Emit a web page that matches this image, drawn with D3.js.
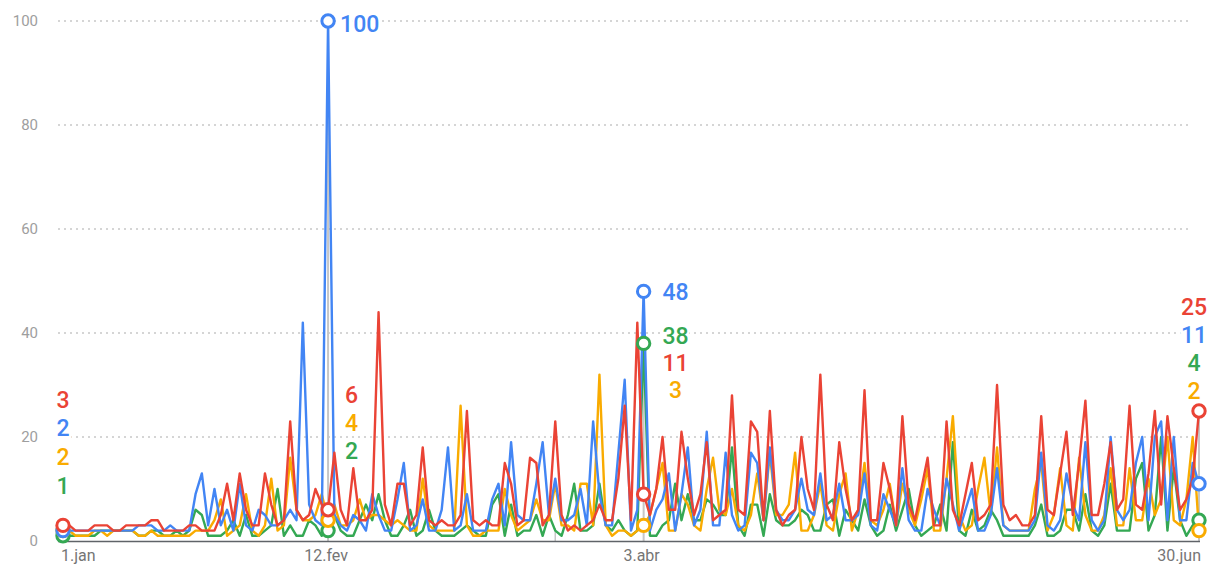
<!DOCTYPE html>
<html>
<head>
<meta charset="utf-8">
<script src="https://cdn.jsdelivr.net/npm/d3@7"></script>
<style>
  html, body { margin: 0; padding: 0; background: #fff; }
  svg { display: block; font-family: Roboto, "Noto Sans", Arial, sans-serif; }
</style>
</head>
<body>
<svg id="chart" width="1211" height="565"></svg>
<script>
// ---- DATA ----
const startDate = "2023-01-01";
const dayCount = 181;
const xTickDates = ["2023-01-01", "2023-02-12", "2023-04-03", "2023-06-30"];
const xTickLabels = ["1.jan", "12.fev", "3.abr", "30.jun"];
const yTicks = [0, 20, 40, 60, 80, 100];

const seriesNames = ["green", "yellow", "blue", "red"];

const redValues = [
  3,3,2,2,2,3,3,3,2,2,3,3,3,3,4,4,2,2,
  2,2,3,3,2,2,2,5,11,4,13,6,3,3,13,7,3,4,
  23,6,4,5,10,7,6,17,6,3,14,4,4,6,44,7,3,11,
  11,3,5,18,4,3,4,3,3,5,25,4,3,4,3,3,15,11,
  3,4,16,15,3,5,23,5,2,3,2,3,4,7,4,4,12,26,4,42,
  9,5,10,20,6,6,21,12,5,9,19,4,5,6,28,6,5,23,
  21,4,25,6,3,5,6,20,10,6,32,7,4,19,10,4,6,29,4,
  4,15,10,3,24,7,4,10,16,3,3,23,6,3,9,15,4,5,7,
  30,7,4,5,3,3,5,24,6,5,13,21,5,15,27,5,5,11,
  19,6,8,26,7,6,13,25,7,24,14,6,8,12,25
];
const blueValues = [
  2,2,2,2,2,2,2,2,2,2,2,2,3,3,3,2,2,3,
  2,2,2,9,13,3,10,3,6,2,11,3,2,6,5,3,3,4,
  6,4,42,7,4,3,100,5,3,2,5,4,2,9,5,2,2,8,
  15,2,3,8,2,2,6,18,2,3,9,2,2,2,8,11,3,19,
  5,4,4,11,19,5,12,4,4,5,10,3,23,9,3,3,17,31,2,6,
  48,2,6,8,13,2,9,18,3,6,21,3,3,17,5,2,3,17,
  15,4,18,6,4,4,6,12,6,5,13,4,5,11,4,4,5,13,3,
  2,9,6,3,14,4,2,2,10,6,3,12,7,2,6,10,2,2,5,
  14,3,2,2,2,2,4,17,3,2,4,13,7,4,19,4,2,4,
  20,6,4,6,15,20,4,20,23,4,20,4,4,15,11
];
const yellowValues = [
  2,2,1,1,1,2,2,1,2,2,2,2,1,1,2,1,1,1,
  1,1,1,2,2,2,4,8,1,2,3,9,2,1,3,12,2,3,
  16,6,4,4,5,9,4,7,3,3,4,8,4,5,5,4,3,4,
  3,2,2,12,3,2,2,2,2,26,3,1,1,2,2,2,10,5,
  2,3,4,8,4,4,11,3,3,2,11,11,3,32,3,1,2,2,1,2,
  3,5,10,15,2,2,9,7,3,2,10,16,6,5,10,3,2,5,
  13,4,17,5,5,7,17,2,2,5,11,3,2,9,13,2,6,15,4,
  3,6,11,3,11,6,3,8,14,2,2,12,24,5,2,3,10,16,5,
  18,3,2,2,2,2,10,15,2,5,14,3,2,16,5,2,2,5,
  14,3,3,14,4,4,12,5,8,20,4,3,8,20,2
];
const greenValues = [
  1,1,1,1,1,1,2,2,2,2,2,2,1,1,2,2,1,1,
  2,1,2,6,5,1,1,1,2,4,1,5,1,1,2,3,10,1,
  3,1,1,4,3,1,2,5,2,1,1,4,7,4,9,4,1,1,
  3,6,1,2,6,2,1,1,1,2,3,2,1,1,7,9,1,7,
  1,2,2,5,1,5,2,1,5,11,2,2,3,11,3,2,4,2,1,2,
  38,1,1,3,4,11,4,9,4,4,8,7,5,5,18,3,1,7,
  7,1,9,4,3,3,4,6,5,2,2,7,8,1,6,4,2,8,3,
  1,2,7,2,6,10,3,1,2,3,7,2,19,2,1,6,2,3,6,
  4,1,1,1,1,1,3,7,1,1,2,6,6,2,9,2,1,3,
  11,2,2,2,12,15,2,5,20,2,14,4,1,3,4
];

// hover annotations (date index + shown label values, in stacking order)
const hoverDays = [0, 42, 92, 180];
const hoverLabelSeries = [
  ["red", "blue", "yellow", "green"],
  ["blue", "red", "yellow", "green"],
  ["blue", "green", "red", "yellow"],
  ["red", "blue", "green", "yellow"]
];
const hoverLabelValues = [
  [3, 2, 2, 1],
  [100, 6, 4, 2],
  [48, 38, 11, 3],
  [25, 11, 4, 2]
];

// ---- STYLE / LAYOUT ----
const colors = { blue: "#4285f4", red: "#ea4335", yellow: "#f9ab00", green: "#34a853" };
const valuesBy = { red: redValues, blue: blueValues, yellow: yellowValues, green: greenValues };

const svg = d3.select("#chart");
const parse = d3.timeParse("%Y-%m-%d");
const t0 = parse(startDate);
const dates = d3.range(dayCount).map(i => d3.timeDay.offset(t0, i));

const x = d3.scaleTime().domain([dates[0], dates[dates.length - 1]]).range([63, 1199]);
const y = d3.scaleLinear().domain([0, 100]).range([541, 21]);

// gridlines
svg.append("g").selectAll("line").data(yTicks.filter(v => v > 0)).join("line")
  .attr("x1", 58).attr("x2", 1190)
  .attr("y1", d => y(d)).attr("y2", d => y(d))
  .attr("stroke", "#c8c8c8").attr("stroke-width", 1.6)
  .attr("stroke-dasharray", "2,4");

// y labels
svg.append("g").selectAll("text").data(yTicks).join("text")
  .attr("x", 38).attr("y", d => y(d)).attr("dy", "0.35em")
  .attr("text-anchor", "end")
  .attr("fill", "#9e9e9e").attr("font-size", 15)
  .text(d => d);

// hover vertical lines
svg.append("g").selectAll("line").data(hoverDays).join("line")
  .attr("x1", d => x(dates[d])).attr("x2", d => x(dates[d]))
  .attr("y1", d => y(d3.max(seriesNames, s => valuesBy[s][d])))
  .attr("y2", 541)
  .attr("stroke", "#c6c6c6").attr("stroke-width", 2);

// extra marker line
const markerDate = parse("2023-03-20");
svg.append("line")
  .attr("x1", x(markerDate)).attr("x2", x(markerDate))
  .attr("y1", 528).attr("y2", 541)
  .attr("stroke", "#c6c6c6").attr("stroke-width", 1.5);

// lines
const line = d3.line().x((d, i) => x(dates[i])).y(d => y(d)).curve(d3.curveLinear);
svg.append("g").selectAll("path").data(seriesNames).join("path")
  .attr("d", s => line(valuesBy[s]))
  .attr("fill", "none")
  .attr("stroke", s => colors[s])
  .attr("stroke-width", 2.4)
  .attr("stroke-linejoin", "round");

// baseline
svg.append("line").attr("x1", 58).attr("x2", 1200).attr("y1", 541.5).attr("y2", 541.5)
  .attr("stroke", "#5f6368").attr("stroke-width", 1.5);

// x labels
svg.append("g").selectAll("text").data(xTickDates).join("text")
  .attr("x", (d, i) => x(parse(d)) + (i === 0 ? -2 : i === xTickDates.length - 1 ? 2 : -2))
  .attr("y", 561)
  .attr("text-anchor", (d, i) => i === 0 ? "start" : i === xTickDates.length - 1 ? "end" : "middle")
  .attr("fill", "#757575").attr("font-size", 16)
  .text((d, i) => xTickLabels[i]);

// hover circles
hoverDays.forEach(d => {
  svg.append("g").selectAll("circle").data(seriesNames).join("circle")
    .attr("cx", x(dates[d]))
    .attr("cy", s => y(valuesBy[s][d]))
    .attr("r", 6.2)
    .attr("fill", "#fff")
    .attr("stroke", s => colors[s])
    .attr("stroke-width", 3);
});

// hover labels (layout per group)
const labelLayout = [
  { dx: 0, anchor: "middle", ys: [400, 428, 457, 486] },
  { dx: 0, anchor: "start", ys: [null, 395, 423, 451], xs: [12, 17, 17, 17], off: 3 },
  { dx: 0, anchor: "middle", ys: [null, 336, 363, 390], xs: [32, 32, 32, 32], off: 0 },
  { dx: -5, anchor: "middle", ys: [307, 335, 363, 391] }
];
hoverDays.forEach((d, g) => {
  const L = labelLayout[g];
  const cx = x(dates[d]);
  hoverLabelSeries[g].forEach((s, k) => {
    const yy = L.ys[k] == null ? y(valuesBy[s][d]) + L.off : L.ys[k];
    const xx = cx + (L.xs ? L.xs[k] : L.dx);
    svg.append("text")
      .attr("x", xx).attr("y", yy).attr("dy", "0.36em")
      .attr("text-anchor", L.anchor)
      .attr("font-size", 23).attr("font-weight", 500)
      .attr("fill", colors[s])
      .attr("stroke", "#fff").attr("stroke-width", 5)
      .attr("paint-order", "stroke")
      .text(hoverLabelValues[g][k]);
  });
});
</script>
</body>
</html>
